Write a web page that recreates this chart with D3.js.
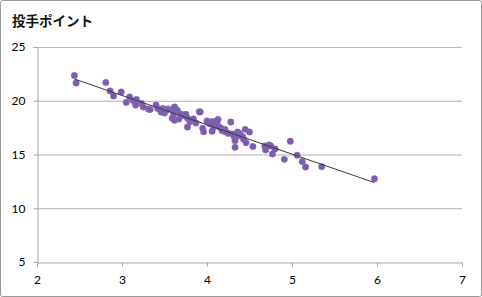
<!DOCTYPE html>
<html>
<head>
<meta charset="utf-8">
<script src="https://cdn.jsdelivr.net/npm/d3@7"></script>
<style>
  body { margin: 0; background: #fff; }
  svg { display: block; }
</style>
</head>
<body>
<div id="chart"></div>
<script>
// x vs 投手ポイント
var xVals = [2.44, 2.46, 2.81, 2.86, 2.90, 2.99, 3.05, 3.09, 3.13, 3.17, 3.16, 3.23, 3.25, 3.31, 3.33,
  3.40, 3.42, 3.48, 3.50, 3.52, 3.54, 3.59, 3.61, 3.62, 3.64, 3.65, 3.61, 3.59, 3.62, 3.67,
  3.73, 3.75, 3.77, 3.91, 3.80, 3.84, 3.87, 3.77, 3.95, 3.96, 4.00, 4.06, 4.13, 4.08, 4.03,
  3.92, 4.06, 4.10, 4.13, 4.16, 4.18, 4.21, 4.22, 4.28, 4.25, 4.30, 4.32, 4.33, 4.33, 4.36,
  4.38, 4.36, 4.39, 4.42, 4.43, 4.45, 4.46, 4.50, 4.54, 4.68, 4.69, 4.73, 4.75, 4.77, 4.80,
  4.91, 4.98, 5.06, 5.12, 5.16, 5.35, 5.97, 4.12, 3.69, 3.46];
var yVals = [22.35, 21.65, 21.70, 20.91, 20.44, 20.81, 19.84, 20.35, 20.02, 20.12, 19.60, 19.74, 19.42, 19.23, 19.19,
  19.60, 19.28, 19.28, 18.86, 19.09, 19.23, 19.17, 19.30, 19.42, 18.98, 19.11, 18.80, 18.37, 18.18, 18.30,
  18.61, 18.74, 18.37, 18.98, 18.05, 18.30, 17.93, 17.56, 17.44, 17.12, 18.12, 18.07, 18.27, 17.56, 17.87,
  18.95, 17.16, 17.77, 17.65, 17.47, 17.21, 17.34, 17.09, 18.02, 16.97, 16.91, 16.66, 16.28, 15.67, 17.09,
  16.97, 16.72, 16.84, 16.66, 16.41, 17.34, 16.10, 17.09, 15.74, 15.79, 15.42, 15.88, 15.79, 15.05, 15.51,
  14.55, 16.23, 14.93, 14.35, 13.84, 13.87, 12.75, 18.14, 18.77, 18.95];
var xTicks = [2, 3, 4, 5, 6, 7];
var yTicks = [5, 10, 15, 20, 25];
var title = "投手ポイント";

var W = 482, H = 297;
var margin = {top: 47, right: 20, bottom: 35, left: 37};

var svg = d3.select("#chart").append("svg")
  .attr("width", W)
  .attr("height", H);

// outer frame
svg.append("rect")
  .attr("x", 0.5).attr("y", 0.5)
  .attr("width", W - 1).attr("height", H - 1)
  .attr("rx", 2)
  .attr("fill", "#fff")
  .attr("stroke", "#9a9a9a");

svg.append("text")
  .attr("x", 12).attr("y", 26)
  .attr("font-family", "'Noto Sans CJK JP', sans-serif")
  .attr("font-weight", "bold")
  .attr("font-size", 13.5)
  .attr("fill", "#111")
  .text(title);

var x = d3.scaleLinear().domain([2, 7]).range([margin.left, 462]);
var y = d3.scaleLinear().domain([5, 25]).range([262, margin.top]);

// gridlines
svg.append("g")
  .selectAll("line")
  .data(yTicks.filter(function(d) { return d > 5; }))
  .enter().append("line")
  .attr("x1", x(2)).attr("x2", x(7))
  .attr("y1", function(d) { return y(d) + 0.5; })
  .attr("y2", function(d) { return y(d) + 0.5; })
  .attr("stroke", function(d) { return d == 25 ? "#cfb2cf" : "#b3adb3"; })
  .attr("stroke-width", 1);

// axes
var xAxis = svg.append("g")
  .attr("transform", "translate(0," + (y(5) + 0.5) + ")")
  .call(d3.axisBottom(x).tickValues(xTicks).tickSize(4).tickPadding(9).tickFormat(d3.format("d")));
var yAxis = svg.append("g")
  .attr("transform", "translate(" + (x(2) + 0.5) + ",0)")
  .call(d3.axisLeft(y).tickValues(yTicks).tickSize(4).tickPadding(8).tickFormat(d3.format("d")));

[xAxis, yAxis].forEach(function(a) {
  a.select(".domain").attr("stroke", "#a8a8a8");
  a.selectAll(".tick line").attr("stroke", "#a8a8a8");
  a.selectAll("text")
    .attr("font-family", "Lato, 'Open Sans', sans-serif")
    .attr("font-size", 12)
    .attr("fill", "#000");
});

// linear trendline (least squares)
var n = xVals.length;
var mx = d3.mean(xVals), my = d3.mean(yVals);
var sxy = 0, sxx = 0;
for (var i = 0; i < n; i++) {
  sxy += (xVals[i] - mx) * (yVals[i] - my);
  sxx += (xVals[i] - mx) * (xVals[i] - mx);
}
var slope = sxy / sxx, icpt = my - slope * mx;
var ext = d3.extent(xVals);

// points
var pts = xVals.map(function(d, i) { return {x: d, y: yVals[i]}; });
svg.append("g")
  .selectAll("circle")
  .data(pts)
  .enter().append("circle")
  .attr("cx", function(d) { return x(d.x); })
  .attr("cy", function(d) { return y(d.y); })
  .attr("r", 3.2)
  .attr("fill", "#7c5cae")
  .attr("stroke", "#8a6cb8")
  .attr("stroke-width", 0.5);

svg.append("line")
  .attr("x1", x(ext[0])).attr("y1", y(icpt + slope * ext[0]))
  .attr("x2", x(ext[1])).attr("y2", y(icpt + slope * ext[1]))
  .attr("stroke", "#3a3a3a")
  .attr("stroke-width", 1);
</script>
</body>
</html>
